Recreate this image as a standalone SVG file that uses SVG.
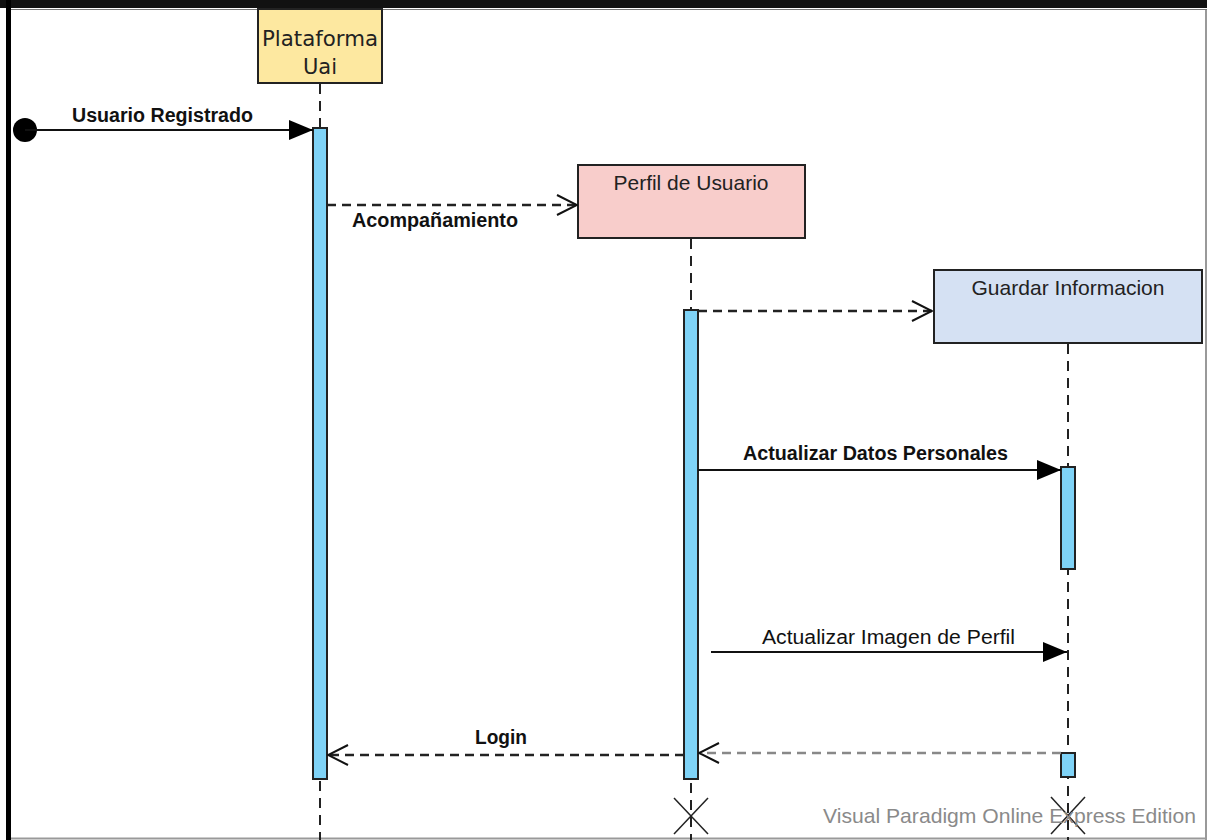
<svg xmlns="http://www.w3.org/2000/svg" width="1207" height="840" viewBox="0 0 1207 840">
<defs>
<marker id="filled" viewBox="0 0 24 20" refX="24" refY="10" markerWidth="24" markerHeight="20" markerUnits="userSpaceOnUse" orient="auto"><path d="M0,0 L24,10 L0,20 Z" fill="#000"/></marker>
<marker id="open" viewBox="0 0 22 22" refX="21" refY="11" markerWidth="22" markerHeight="22" markerUnits="userSpaceOnUse" orient="auto"><path d="M1,1 L21,11 L1,21" fill="none" stroke="#111" stroke-width="2"/></marker>
</defs>
<style>
.lbl{font-family:"Liberation Sans",Arial,sans-serif;font-size:20px;fill:#111;}
.box-t{font-family:"Liberation Sans",Arial,sans-serif;font-size:21px;fill:#222;}
.b{font-weight:bold;}
.box{stroke:#222;stroke-width:2;}
.life{stroke:#222;stroke-width:2;stroke-dasharray:10,7;fill:none;}
.act{fill:#7fd3f7;stroke:#222;stroke-width:2;}
.msg{stroke:#111;stroke-width:2;fill:none;}
.dash{stroke:#222;stroke-width:2.5;stroke-dasharray:9,6;fill:none;}
.x{stroke:#222;stroke-width:1.5;}
</style>
<rect x="0" y="0" width="1207" height="840" fill="#fff"/>
<!-- frame -->
<rect x="0" y="0" width="1207" height="8" fill="#111"/>
<rect x="6" y="0" width="5" height="840" fill="#000"/>
<line x1="1206" y1="9" x2="1206" y2="840" stroke="#999" stroke-width="2"/>
<line x1="11" y1="838.5" x2="1207" y2="838.5" stroke="#999" stroke-width="2"/>
<line x1="11" y1="9.5" x2="1207" y2="9.5" stroke="#777" stroke-width="1"/>

<g id="lifelines">
<line class="life" x1="320" y1="84" x2="320" y2="840"/>
<line class="life" x1="691" y1="239" x2="691" y2="840"/>
<line class="life" x1="1068" y1="344" x2="1068" y2="840"/>
</g>

<g id="plataforma">
<rect class="box" x="258" y="9" width="124" height="74" fill="#fde8a0"/>
<text x="320" y="46" text-anchor="middle" font-family="DejaVu Sans, sans-serif" font-size="21" fill="#222" textLength="116" lengthAdjust="spacingAndGlyphs">Plataforma</text>
<text x="320" y="74" text-anchor="middle" font-family="DejaVu Sans, sans-serif" font-size="21" fill="#222">Uai</text>
</g>
<g id="perfil">
<rect class="box" x="578" y="165" width="227" height="73" fill="#f8cdcb"/>
<text class="box-t" x="691" y="190" text-anchor="middle" textLength="155" lengthAdjust="spacingAndGlyphs">Perfil de Usuario</text>
</g>
<g id="guardar">
<rect class="box" x="934" y="270" width="268" height="73" fill="#d5e1f3"/>
<text class="box-t" x="1068" y="295" text-anchor="middle" textLength="193" lengthAdjust="spacingAndGlyphs">Guardar Informacion</text>
</g>

<g id="activations">
<rect class="act" x="313" y="128" width="14" height="651"/>
<rect class="act" x="684" y="310" width="14" height="469"/>
<rect class="act" x="1061" y="467" width="14" height="102"/>
<rect class="act" x="1061" y="753" width="14" height="24"/>
</g>

<g id="start">
<circle cx="25" cy="130" r="12" fill="#000"/>
</g>

<g id="connectors">
<line class="msg" x1="25" y1="130" x2="313" y2="130" marker-end="url(#filled)"/>
<line class="dash" x1="327" y1="205" x2="577" y2="205" marker-end="url(#open)"/>
<line class="dash" x1="698" y1="311" x2="932" y2="311" marker-end="url(#open)"/>
<line class="msg" x1="698" y1="470" x2="1061" y2="470" marker-end="url(#filled)"/>
<line class="msg" x1="711" y1="652" x2="1067" y2="652" marker-end="url(#filled)"/>
<line class="dash" x1="1061" y1="753" x2="699" y2="753" style="stroke:#888" marker-end="url(#open)"/>
<line class="dash" x1="684" y1="755" x2="328" y2="755" marker-end="url(#open)"/>
<text class="lbl b" x="72" y="122" textLength="181" lengthAdjust="spacingAndGlyphs">Usuario Registrado</text>
<text class="lbl b" x="352" y="227" textLength="166" lengthAdjust="spacingAndGlyphs">Acompañamiento</text>
<text class="lbl b" x="743" y="460" textLength="265" lengthAdjust="spacingAndGlyphs">Actualizar Datos Personales</text>
<text class="lbl" x="762" y="644" textLength="253" lengthAdjust="spacingAndGlyphs">Actualizar Imagen de Perfil</text>
<text class="lbl b" x="475" y="744" textLength="52" lengthAdjust="spacingAndGlyphs">Login</text>
</g>

<g id="destroy">
<line class="x" x1="674" y1="798" x2="708" y2="834"/>
<line class="x" x1="708" y1="798" x2="674" y2="834"/>
<line class="x" x1="1051" y1="797" x2="1085" y2="834"/>
<line class="x" x1="1085" y1="797" x2="1051" y2="834"/>
</g>

<text x="823" y="823" font-family="Liberation Sans, Arial, sans-serif" font-size="21" fill="#8a8a8a" textLength="373" lengthAdjust="spacingAndGlyphs">Visual Paradigm Online Express Edition</text>
</svg>
